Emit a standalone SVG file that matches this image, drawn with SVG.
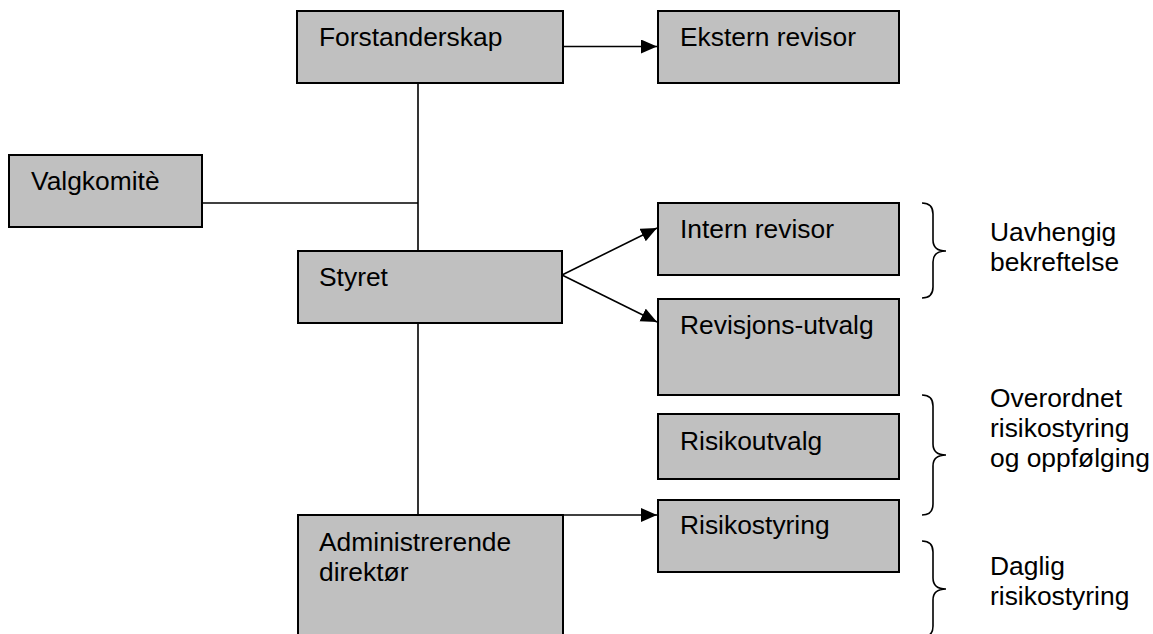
<svg xmlns="http://www.w3.org/2000/svg" width="1153" height="634" viewBox="0 0 1153 634">
<style>
.box{fill:#c0c0c0;stroke:#000;stroke-width:2}
.t{font-family:"Liberation Sans",Arial,sans-serif;font-size:26.4px;fill:#000}
.ln{fill:none;stroke:#000;stroke-width:1.6}
.br{fill:none;stroke:#000;stroke-width:1.6}
</style>
<defs>
<marker id="ah" markerUnits="userSpaceOnUse" markerWidth="18" markerHeight="16" refX="16" refY="7" orient="auto">
<path d="M0,0 L16,7 L0,14 Z" fill="#000"/>
</marker>
</defs>
<rect width="1153" height="634" fill="#fff"/>
<g id="connectors">
<line class="ln" x1="418" y1="83" x2="418" y2="251"/>
<line class="ln" x1="418" y1="323" x2="418" y2="515"/>
<line class="ln" x1="202" y1="203" x2="418" y2="203"/>
<line class="ln" x1="563" y1="46.5" x2="657" y2="46.5" marker-end="url(#ah)"/>
<line class="ln" x1="562" y1="275" x2="657" y2="228" marker-end="url(#ah)"/>
<line class="ln" x1="562" y1="275" x2="657" y2="322" marker-end="url(#ah)"/>
<line class="ln" x1="515" y1="515" x2="657" y2="515" marker-end="url(#ah)"/>
</g>
<g id="forstanderskap"><rect class="box" x="297" y="11" width="266" height="72"/><text class="t" x="319" y="46">Forstanderskap</text></g>
<g id="ekstern-revisor"><rect class="box" x="658" y="11" width="241" height="72"/><text class="t" x="680" y="46">Ekstern revisor</text></g>
<g id="valgkomite"><rect class="box" x="9" y="155" width="193" height="72"/><text class="t" x="31" y="190">Valgkomitè</text></g>
<g id="styret"><rect class="box" x="298" y="251" width="264" height="72"/><text class="t" x="319" y="286">Styret</text></g>
<g id="intern-revisor"><rect class="box" x="658" y="203" width="241" height="72"/><text class="t" x="680" y="238">Intern revisor</text></g>
<g id="revisjonsutvalg"><rect class="box" x="658" y="299" width="241" height="96"/><text class="t" x="680" y="334">Revisjons-utvalg</text></g>
<g id="risikoutvalg"><rect class="box" x="658" y="414" width="241" height="65"/><text class="t" x="680" y="450">Risikoutvalg</text></g>
<g id="risikostyring"><rect class="box" x="658" y="500" width="241" height="72"/><text class="t" x="680" y="534">Risikostyring</text></g>
<g id="adm-dir"><rect class="box" x="298" y="515" width="265" height="130"/><text class="t" x="319" y="551">Administrerende</text><text class="t" x="319" y="581">direktør</text></g>
<g id="brace-uavhengig">
<path class="br" d="M922,203 Q933,203 933,214 L933,240 Q933,251 946,251 Q933,251 933,262 L933,287 Q933,298 922,298"/>
<text class="t" x="990" y="241">Uavhengig</text><text class="t" x="990" y="271">bekreftelse</text>
</g>
<g id="brace-overordnet">
<path class="br" d="M922,395 Q933,395 933,406 L933,444 Q933,455 946,455 Q933,455 933,466 L933,504 Q933,515 922,515"/>
<text class="t" x="990" y="407">Overordnet</text><text class="t" x="990" y="437">risikostyring</text><text class="t" x="990" y="467">og oppfølging</text>
</g>
<g id="brace-daglig">
<path class="br" d="M922,541 Q933,541 933,552 L933,578 Q933,589 946,589 Q933,589 933,600 L933,626 Q933,637 922,637"/>
<text class="t" x="990" y="575">Daglig</text><text class="t" x="990" y="605">risikostyring</text>
</g>
</svg>
